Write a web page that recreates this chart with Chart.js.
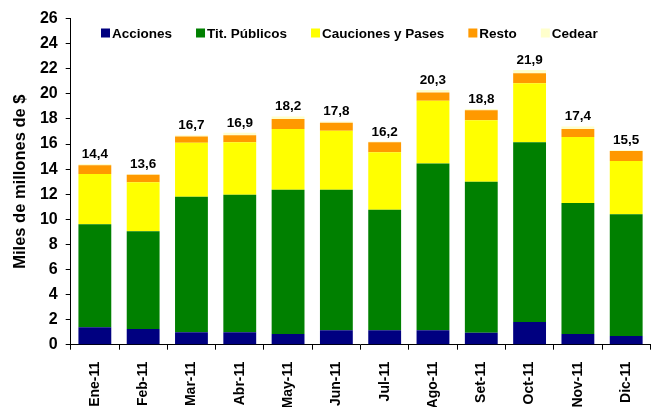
<!DOCTYPE html>
<html>
<head>
<meta charset="utf-8">
<script src="https://cdn.jsdelivr.net/npm/chart.js@4"></script>
<style>
  html, body { margin: 0; padding: 0; background: #fff; overflow: hidden; }
  #wrap { width: 655px; height: 407px; }
</style>
</head>
<body>
<div id="wrap"><canvas id="grafico"></canvas></div>
<script>
var meses = ["Ene-11", "Feb-11", "Mar-11", "Abr-11", "May-11", "Jun-11", "Jul-11", "Ago-11", "Set-11", "Oct-11", "Nov-11", "Dic-11"];
var acciones   = [1.4, 1.25, 1.0, 1.0, 0.85, 1.15, 1.15, 1.15, 0.95, 1.8, 0.85, 0.7];
var titPublicos = [8.2, 7.8, 10.8, 10.95, 11.5, 11.2, 9.6, 13.3, 12.05, 14.35, 10.45, 9.7];
var cauciones  = [4.0, 3.9, 4.3, 4.2, 4.85, 4.7, 4.6, 5.0, 4.9, 4.7, 5.25, 4.25];
var resto      = [0.7, 0.6, 0.5, 0.55, 0.8, 0.65, 0.8, 0.65, 0.8, 0.8, 0.65, 0.8];
var cedear     = [0.1, 0.05, 0.1, 0.2, 0.2, 0.1, 0.05, 0.2, 0.1, 0.25, 0.2, 0.05];
var totales    = [14.4, 13.6, 16.7, 16.9, 18.2, 17.8, 16.2, 20.3, 18.8, 21.9, 17.4, 15.5];
var ticksY = [0, 2, 4, 6, 8, 10, 12, 14, 16, 18, 20, 22, 24, 26];

var fuente = "'Liberation Sans', Arial, sans-serif";

// totales arriba de cada columna
var etiquetas = {
  id: 'etiquetas',
  afterDatasetsDraw: function(chart) {
    var ctx = chart.ctx;
    var ult = chart.getDatasetMeta(chart.data.datasets.length - 1);
    ctx.save();
    ctx.font = "bold 13.5px " + fuente;
    ctx.fillStyle = "#000";
    ctx.textAlign = "center";
    ctx.textBaseline = "alphabetic";
    ult.data.forEach(function(bar, i) {
      ctx.fillText(totales[i].toFixed(1).replace('.', ','), bar.x, bar.y - 6);
    });
    ctx.restore();
  }
};

// leyenda dentro del area del grafico
var leyenda = {
  id: 'leyenda',
  afterDraw: function(chart) {
    var ctx = chart.ctx;
    var x = 101, y = 33;
    ctx.save();
    ctx.font = "bold 13.5px " + fuente;
    ctx.textBaseline = "middle";
    chart.data.datasets.forEach(function(ds) {
      ctx.fillStyle = ds.backgroundColor;
      ctx.fillRect(x, y - 4.5, 9, 9);
      ctx.fillStyle = "#000";
      ctx.fillText(ds.label, x + 11, y + 1);
      x += 11 + ctx.measureText(ds.label).width + 24;
    });
    ctx.restore();
  }
};

new Chart(document.getElementById("grafico"), {
  type: 'bar',
  data: {
    labels: meses,
    datasets: [
      { label: "Acciones", backgroundColor: "#000080", data: acciones },
      { label: "Tit. Públicos", backgroundColor: "#008000", data: titPublicos },
      { label: "Cauciones y Pases", backgroundColor: "#FFFF00", data: cauciones },
      { label: "Resto", backgroundColor: "#FF9900", data: resto },
      { label: "Cedear", backgroundColor: "#FFFFCC", data: cedear }
    ]
  },
  options: {
    responsive: true,
    maintainAspectRatio: false,
    animation: false,
    events: [],
    layout: { padding: { top: 18.6, left: 0, right: 0, bottom: 0 } },
    datasets: { bar: { barPercentage: 0.68, categoryPercentage: 1.0 } },
    plugins: {
      legend: { display: false },
      title: { display: false },
      tooltip: { enabled: false }
    },
    scales: {
      x: {
        stacked: true,
        afterFit: function(s) { s.height = 62.3; },
        grid: { drawOnChartArea: false, tickLength: 5, color: "#000", offset: true },
        border: { color: "#000", width: 1 },
        ticks: {
          color: "#000",
          font: { family: fuente, size: 14, weight: "bold" },
          maxRotation: 90, minRotation: 90,
          padding: 12
        }
      },
      y: {
        stacked: true,
        min: 0, max: 26,
        afterFit: function(s) { s.width = 70.7; },
        afterBuildTicks: function(s) { s.ticks = ticksY.map(function(v) { return { value: v }; }); },
        grid: { drawOnChartArea: false, tickLength: 5, color: "#000" },
        border: { color: "#000", width: 1 },
        ticks: {
          color: "#000",
          font: { family: fuente, size: 16, weight: "bold" },
          padding: 8
        },
        title: {
          display: true,
          text: "Miles de millones de $",
          color: "#000",
          font: { family: fuente, size: 16.5, weight: "bold" },
          padding: { top: 11, bottom: 0 }
        }
      }
    }
  },
  plugins: [etiquetas, leyenda]
});
</script>
</body>
</html>
